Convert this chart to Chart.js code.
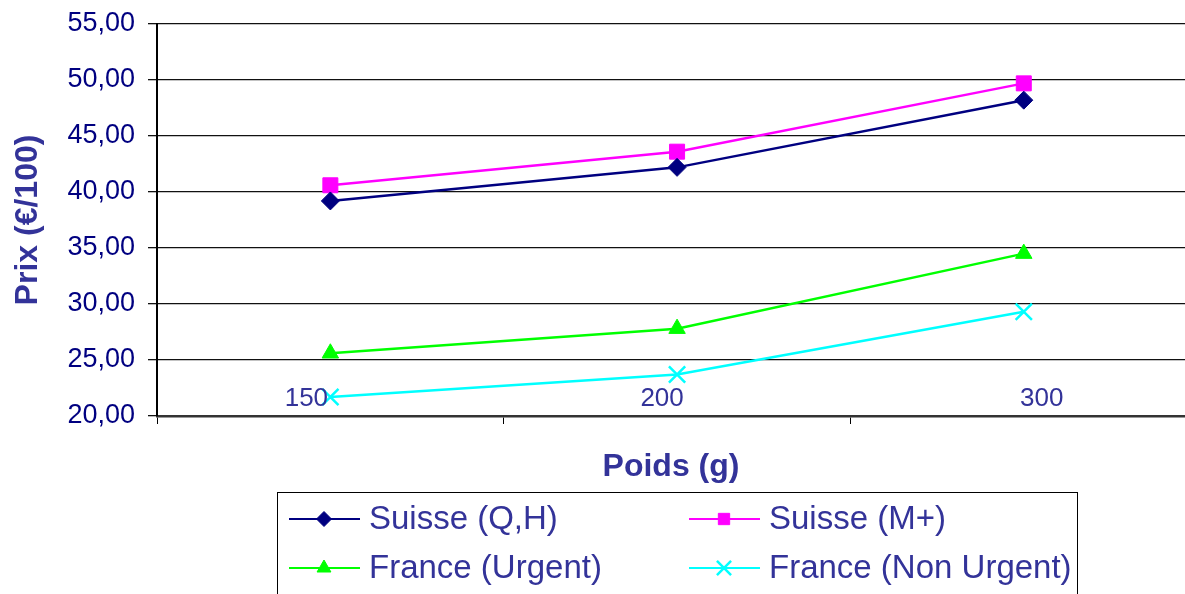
<!DOCTYPE html>
<html>
<head>
<meta charset="utf-8">
<script src="https://cdn.jsdelivr.net/npm/chart.js@4/dist/chart.umd.min.js"></script>
<style>
  body { margin: 0; background: #fff; overflow: hidden; }
  #wrap { width: 1185px; height: 594px; }
</style>
</head>
<body>
<div id="wrap"><canvas id="myChart" width="1185" height="594"></canvas></div>
<script>
"use strict";

var categories = ['150', '200', '300'];
var seriesNames = ['Suisse (Q,H)', 'Suisse (M+)', 'France (Urgent)', 'France (Non Urgent)'];
var suisseQH = [39.2, 42.2, 48.2];
var suisseMplus = [40.6, 43.6, 49.7];
var franceUrgent = [25.6, 27.8, 34.5];
var franceNonUrgent = [21.7, 23.7, 29.3];
var yTicks = [20, 25, 30, 35, 40, 45, 50, 55];

var textColor = '#333399';
var font = 'Liberation Sans, Arial, sans-serif';
// excel puts the category labels a bit off centre
var labelNudge = [-24, -15, 18];
// the plot runs past the right edge of the picture, so the last band is cut
var xMin = -0.5;
var xMax = 2.465;

// category labels sit just above the x axis, inside the plot
var insideLabels = {
    id: 'insideLabels',
    afterDraw: function(chart) {
        var ctx = chart.ctx;
        var xs = chart.scales.x;
        ctx.save();
        ctx.fillStyle = textColor;
        ctx.font = '26px ' + font;
        ctx.textAlign = 'center';
        ctx.textBaseline = 'middle';
        categories.forEach(function(c, i) {
            ctx.fillText(c, xs.getPixelForValue(i) + labelNudge[i], chart.chartArea.bottom - 17);
        });
        ctx.restore();
    }
};

// legend drawn in a box under the chart, two columns
var boxLegend = {
    id: 'boxLegend',
    afterDraw: function(chart) {
        var ctx = chart.ctx;
        ctx.save();
        ctx.strokeStyle = '#000';
        ctx.lineWidth = 1;
        ctx.strokeRect(277.5, 492.5, 800, 200);
        chart.data.datasets.forEach(function(ds, i) {
            var x0 = 289 + (i % 2) * 400;
            var y = 519 + Math.floor(i / 2) * 49;
            ctx.strokeStyle = ds.borderColor;
            ctx.lineWidth = 2;
            ctx.beginPath();
            ctx.moveTo(x0, y);
            ctx.lineTo(x0 + 71, y);
            ctx.stroke();
            ctx.fillStyle = ds.pointBackgroundColor;
            ctx.strokeStyle = ds.pointBorderColor;
            ctx.lineWidth = ds.pointBorderWidth;
            Chart.helpers.drawPoint(ctx, {pointStyle: ds.pointStyle, radius: ds.legendRadius, borderWidth: ds.pointBorderWidth}, x0 + 35, y);
            ctx.fillStyle = textColor;
            ctx.font = '33px ' + font;
            ctx.textBaseline = 'middle';
            ctx.textAlign = 'left';
            ctx.fillText(ds.label, x0 + 80, y + 1);
        });
        ctx.restore();
    }
};

function makeSet(label, values, color, style, radius, legendRadius) {
    return {
        label: label,
        data: values.map(function(v, i) { return { x: i, y: v }; }),
        borderColor: color,
        backgroundColor: color,
        borderWidth: 2.5,
        pointStyle: style,
        pointRadius: radius,
        pointHoverRadius: radius,
        pointBackgroundColor: color,
        pointBorderColor: color,
        pointBorderWidth: style === 'crossRot' ? 2.5 : 1,
        legendRadius: legendRadius,
        tension: 0
    };
}

var ctx = document.getElementById('myChart').getContext('2d');

var priceChart = new Chart(ctx, {
    type: 'line',
    data: {
        datasets: [
            makeSet(seriesNames[0], suisseQH, '#000080', 'rectRot', 9, 7.5),
            makeSet(seriesNames[1], suisseMplus, '#ff00ff', 'rect', 10.6, 8),
            makeSet(seriesNames[2], franceUrgent, '#00ff00', 'triangle', 9.5, 8),
            makeSet(seriesNames[3], franceNonUrgent, '#00ffff', 'crossRot', 11.5, 10)
        ]
    },
    options: {
        responsive: false,
        animation: false,
        layout: { autoPadding: false, padding: { left: 0, top: 24, right: 0, bottom: 108 } },
        plugins: {
            legend: { display: false },
            tooltip: { enabled: false }
        },
        scales: {
            x: {
                type: 'linear',
                min: xMin,
                max: xMax,
                afterBuildTicks: function(scale) {
                    // tick marks sit between the categories
                    scale.ticks = categories.map(function(c, i) { return { value: i - 0.5 }; });
                },
                grid: {
                    drawOnChartArea: false,
                    drawTicks: true,
                    tickLength: 8,
                    color: '#000'
                },
                border: { color: '#333', width: 2.5 },
                ticks: { display: false },
                title: {
                    display: true,
                    text: 'Poids (g)',
                    color: textColor,
                    font: { family: font, size: 32, weight: 'bold' },
                    padding: { top: 0, bottom: 0 }
                },
                afterFit: function(scale) {
                    scale.height = 70;
                    scale.paddingLeft = 0;
                    scale.paddingRight = 0;
                }
            },
            y: {
                min: 20,
                max: 55,
                afterBuildTicks: function(scale) {
                    scale.ticks = yTicks.map(function(v) { return { value: v }; });
                },
                grid: {
                    color: '#111',
                    lineWidth: 1.3,
                    tickLength: 9
                },
                border: { color: '#000', width: 2 },
                ticks: {
                    color: '#000080',
                    font: { family: font, size: 27 },
                    padding: 13,
                    callback: function(v) { return v.toFixed(2).replace('.', ','); }
                },
                title: {
                    display: true,
                    text: 'Prix (€/100)',
                    color: textColor,
                    font: { family: font, size: 32, weight: 'bold' },
                    padding: { top: 9, bottom: 0 }
                },
                afterFit: function(scale) {
                    scale.width = 157;
                    scale.paddingTop = 0;
                    scale.paddingBottom = 0;
                }
            }
        }
    },
    plugins: [insideLabels, boxLegend]
});
</script>
</body>
</html>
